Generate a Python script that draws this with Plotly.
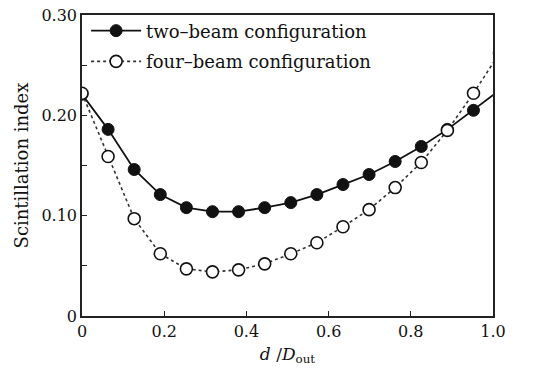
import plotly.graph_objects as go

x_vals = [0, 0.0635, 0.127, 0.1905, 0.254, 0.3175, 0.381, 0.4445, 0.508, 0.5715,
          0.635, 0.6985, 0.762, 0.8255, 0.889, 0.9525, 1.016]
two_beam = [0.221, 0.186, 0.146, 0.121, 0.108, 0.104, 0.104, 0.108, 0.113, 0.121,
            0.131, 0.141, 0.154, 0.169, 0.186, 0.205, 0.225]
four_beam = [0.222, 0.159, 0.097, 0.062, 0.047, 0.044, 0.046, 0.052, 0.062, 0.073,
             0.089, 0.106, 0.128, 0.153, 0.185, 0.222, 0.262]
y_tickvals = [0, 0.10, 0.20, 0.30]
y_ticktext = ["0", "0.10", "0.20", "0.30"]
x_tickvals = [0, 0.2, 0.4, 0.6, 0.8, 1.0]
x_ticktext = ["0", "0.2", "0.4", "0.6", "0.8", "1.0"]

FONT = "DejaVu Serif"

fig = go.Figure()
fig.add_trace(go.Scatter(
    x=x_vals, y=two_beam, mode="lines+markers", name="two\u2013beam configuration",
    line=dict(color="#111111", width=1.8),
    marker=dict(symbol="circle", size=12, color="#111111", line=dict(color="#111111", width=1)),
    legend="legend",
))
fig.add_trace(go.Scatter(
    x=x_vals, y=four_beam, mode="lines+markers", name="four\u2013beam configuration",
    line=dict(color="#333333", width=1.6, dash="dot"),
    marker=dict(symbol="circle", size=12, color="white", line=dict(color="#111111", width=1.6)),
    legend="legend2",
))

leg_common = dict(xanchor="left", yanchor="middle", bgcolor="rgba(0,0,0,0)",
                  font=dict(family=FONT, size=18, color="#111111"), itemwidth=50)

fig.update_layout(
    width=549, height=370,
    margin=dict(l=82, r=56, t=15, b=54),
    paper_bgcolor="white", plot_bgcolor="white",
    font=dict(family=FONT, size=17, color="#111111"),
    showlegend=True,
    legend=dict(x=0.01, y=0.947, **leg_common),
    legend2=dict(x=0.01, y=0.845, **leg_common),
    xaxis=dict(range=[0, 1.0], tickvals=x_tickvals, ticktext=x_ticktext,
               ticks="inside", ticklen=5, tickwidth=1.2, tickcolor="#222222",
               showline=True, linecolor="#222222", linewidth=1.5, mirror=True,
               showgrid=False, zeroline=False, automargin=False,
               tickfont=dict(family=FONT, size=16),
               title=dict(text="<i>d</i> /<i>D</i><sub>out</sub>", standoff=8,
                          font=dict(family=FONT, size=17))),
    yaxis=dict(range=[0, 0.30], tickvals=y_tickvals, ticktext=y_ticktext,
               ticks="inside", ticklen=5, tickwidth=1.2, tickcolor="#222222",
               minor=dict(dtick=0.05, tick0=0, ticks="inside", ticklen=5, tickwidth=1.2, tickcolor="#222222"),
               showline=True, linecolor="#222222", linewidth=1.5, mirror=True,
               showgrid=False, zeroline=False, automargin=False,
               tickfont=dict(family=FONT, size=16),
               title=dict(text="Scintillation index", standoff=8,
                          font=dict(family=FONT, size=18))),
)

fig.write_html("out.html")
